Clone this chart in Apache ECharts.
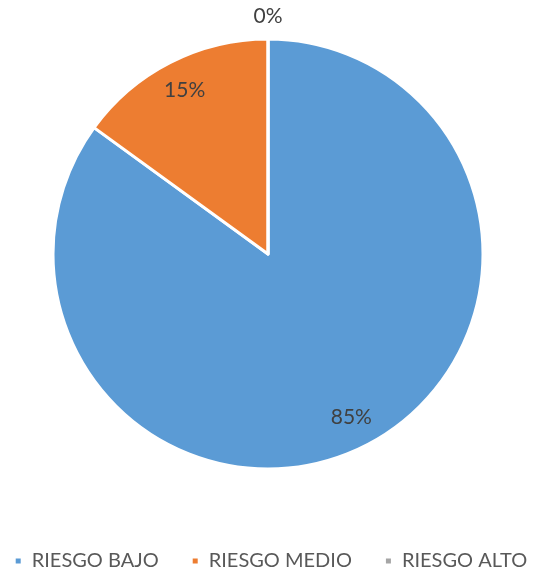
<!DOCTYPE html>
<html>
<head>
<meta charset="utf-8">
<script src="https://cdn.jsdelivr.net/npm/echarts@6/dist/echarts.min.js"></script>
<style>
  html, body { margin: 0; padding: 0; background: #fff; }
  #chart { width: 541px; height: 575px; }
</style>
</head>
<body>
<div id="chart"></div>
<script>
// Risk level shares
const categories = ['RIESGO BAJO', 'RIESGO MEDIO', 'RIESGO ALTO'];
const values = [85, 15, 0];
const colors = ['#5B9BD5', '#ED7D31', '#A5A5A5'];

const FONT = 'Lato';
const pieData = categories.map((name, i) => ({ name, value: values[i] }));
const center = [268, 254];
const R = 215;

const chart = echarts.init(document.getElementById('chart'));
chart.setOption({
  animation: false,
  color: colors,
  legend: {
    data: categories,
    top: 546,
    left: 'center',
    icon: 'rect',
    itemWidth: 7,
    itemHeight: 7,
    itemGap: 32,
    textStyle: { fontFamily: FONT, fontSize: 20, color: '#595959', padding: [0, 0, 0, 5] }
  },
  series: [
    {
      // visible slices
      type: 'pie',
      center: center,
      radius: [0, R],
      startAngle: 90,
      clockwise: true,
      silent: true,
      itemStyle: { borderColor: '#fff', borderWidth: 3 },
      label: { show: false },
      labelLine: { show: false },
      data: pieData
    },
    {
      // percentage labels inside the slices
      type: 'pie',
      center: center,
      radius: [146, R],
      startAngle: 90,
      clockwise: true,
      silent: true,
      legendHoverLink: false,
      itemStyle: { color: 'rgba(0,0,0,0)' },
      label: {
        show: true,
        position: 'inside',
        formatter: p => p.value > 0 ? p.percent + '%' : '',
        fontFamily: FONT, fontSize: 21, color: '#404040'
      },
      labelLine: { show: false },
      data: pieData
    },
    {
      // label for empty slice, just outside the rim
      type: 'pie',
      center: center,
      radius: [R + 12, R + 28],
      startAngle: 90,
      clockwise: true,
      silent: true,
      legendHoverLink: false,
      itemStyle: { color: 'rgba(0,0,0,0)' },
      label: {
        show: true,
        position: 'inside',
        formatter: p => p.value === 0 ? p.percent + '%' : '',
        fontFamily: FONT, fontSize: 21, color: '#404040'
      },
      labelLine: { show: false },
      data: pieData
    }
  ]
});
</script>
</body>
</html>
